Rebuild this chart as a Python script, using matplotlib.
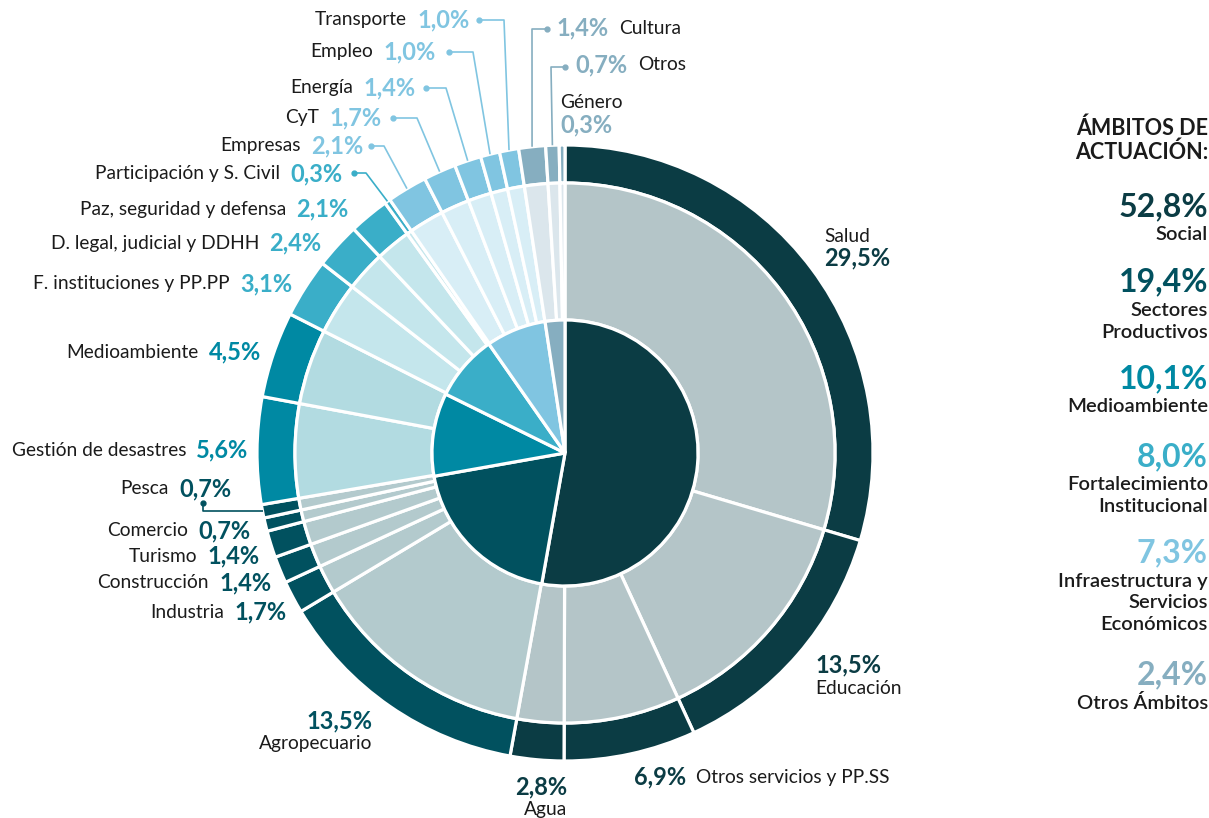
"""Donut chart of projects by sector, grouped by field of action."""

import matplotlib.pyplot as plt
import numpy as np

W, H = 1209, 818
CX, CY = 565, 453          # pie centre in pixels, measured from the top
R_OUT, R_MID, R_IN = 308, 270, 133

GROUP_NAMES = ["Social", "Sectores\nProductivos", "Medioambiente",
               "Fortalecimiento\nInstitucional",
               "Infraestructura y\nServicios\nEconómicos", "Otros Ámbitos"]
GROUP_SHARES = [52.8, 19.4, 10.1, 8.0, 7.3, 2.4]
GROUP_DARK = ["#0b3c44", "#01515f", "#0089a3", "#3aaec8", "#80c5e1", "#86aec0"]
GROUP_LIGHT = ["#b4c5c8", "#b3cacd", "#b2dbe1", "#c4e6ec", "#d8eef6", "#dbe6ec"]

SECTOR_NAMES = ["Salud", "Educación", "Otros servicios y PP.SS", "Agua",
                "Agropecuario", "Industria", "Construcción", "Turismo",
                "Comercio", "Pesca", "Gestión de desastres", "Medioambiente",
                "F. instituciones y PP.PP", "D. legal, judicial y DDHH",
                "Paz, seguridad y defensa", "Participación y S. Civil",
                "Empresas", "CyT", "Energía", "Empleo", "Transporte",
                "Cultura", "Otros", "Género"]
SECTOR_SHARES = [29.5, 13.5, 6.9, 2.8, 13.5, 1.7, 1.4, 1.4, 0.7, 0.7,
                 5.6, 4.5, 3.1, 2.4, 2.1, 0.3, 2.1, 1.7, 1.4, 1.0, 1.0,
                 1.4, 0.7, 0.3]
SECTOR_GROUP = [0, 0, 0, 0, 1, 1, 1, 1, 1, 1, 2, 2, 3, 3, 3, 3,
                4, 4, 4, 4, 4, 5, 5, 5]

# label placement: (mode, x, y) in pixels from the top-left corner
LABEL_LAYOUT = {
    "Salud": ("name_over", 824, 236, "left"),
    "Educación": ("pct_over", 815, 665, "left"),
    "Otros servicios y PP.SS": ("pct_name", 691, 777),
    "Agua": ("pct_over", 567, 787, "right"),
    "Agropecuario": ("pct_over", 372, 721, "right"),
    "Industria": ("name_pct", 229, 612),
    "Construcción": ("name_pct", 214, 583),
    "Turismo": ("name_pct", 202, 556),
    "Comercio": ("name_pct", 193, 531),
    "Pesca": ("name_pct", 174, 489),
    "Gestión de desastres": ("name_pct", 191, 450),
    "Medioambiente": ("name_pct", 204, 352),
    "F. instituciones y PP.PP": ("name_pct", 235, 284),
    "D. legal, judicial y DDHH": ("name_pct", 264, 243),
    "Paz, seguridad y defensa": ("name_pct", 291, 209),
    "Participación y S. Civil": ("name_pct", 285, 174),
    "Empresas": ("name_pct", 306, 146),
    "CyT": ("name_pct", 324, 118),
    "Energía": ("name_pct", 358, 88),
    "Empleo": ("name_pct", 378, 52),
    "Transporte": ("name_pct", 412, 20),
    "Cultura": ("pct_name", 614, 28),
    "Otros": ("pct_name", 633, 65),
    "Género": ("name_over", 560, 103, "left"),
}

# leader lines: dot position and x of the elbow (None = go down first)
LEADERS = {
    "Transporte": ((479, 20), 504),
    "Empleo": ((449, 52), 473),
    "Energía": ((426, 88), 446),
    "CyT": ((393, 118), 417),
    "Empresas": ((371, 146), 384),
    "Participación y S. Civil": ((354, 173), 366),
    "Cultura": ((547, 29), 532),
    "Otros": ((565, 67), 551),
    "Pesca": ((203, 503), None),
}

NAME_COLOR = "#1b1b1b"
NAME_SIZE = 13.8
PCT_SIZE = 17


def pct_text(value):
    return f"{value:.1f}".replace(".", ",") + "%"


def fy(y):
    return H - y


plt.rcParams["font.family"] = ["Lato", "DejaVu Sans"]

fig = plt.figure(figsize=(W / 100, H / 100), dpi=100)
ax = fig.add_axes([0, 0, 1, 1])

outer_colors = [GROUP_DARK[g] for g in SECTOR_GROUP]
middle_colors = [GROUP_LIGHT[g] for g in SECTOR_GROUP]
edge = dict(edgecolor="white", linewidth=2.3)

outer_wedges, _ = ax.pie(SECTOR_SHARES, radius=R_OUT, center=(CX, fy(CY)),
                         startangle=90, counterclock=False, colors=outer_colors,
                         wedgeprops=dict(width=R_OUT - R_MID, **edge))
ax.pie(SECTOR_SHARES, radius=R_MID, center=(CX, fy(CY)),
       startangle=90, counterclock=False, colors=middle_colors,
       wedgeprops=dict(width=R_MID - R_IN, **edge))
ax.pie(GROUP_SHARES, radius=R_IN, center=(CX, fy(CY)),
       startangle=90, counterclock=False, colors=GROUP_DARK,
       wedgeprops=edge)

ax.set_xlim(0, W)
ax.set_ylim(0, H)
ax.set_aspect("equal")
ax.axis("off")

# sector labels
for name, value, g in zip(SECTOR_NAMES, SECTOR_SHARES, SECTOR_GROUP):
    layout = LABEL_LAYOUT[name]
    mode, x, y = layout[:3]
    color = GROUP_DARK[g]
    pct = pct_text(value)
    if mode == "name_pct":
        ax.text(x - 5, fy(y), name, ha="right", va="center",
                fontsize=NAME_SIZE, color=NAME_COLOR)
        ax.text(x + 5, fy(y), pct, ha="left", va="center",
                fontsize=PCT_SIZE, fontweight="bold", color=color)
    elif mode == "pct_name":
        ax.text(x - 5, fy(y), pct, ha="right", va="center",
                fontsize=PCT_SIZE, fontweight="bold", color=color)
        ax.text(x + 5, fy(y), name, ha="left", va="center",
                fontsize=NAME_SIZE, color=NAME_COLOR)
    elif mode == "name_over":
        ha = layout[3]
        ax.text(x, fy(y), name, ha=ha, va="center",
                fontsize=NAME_SIZE, color=NAME_COLOR)
        ax.text(x, fy(y + 22), pct, ha=ha, va="center",
                fontsize=PCT_SIZE, fontweight="bold", color=color)
    elif mode == "pct_over":
        ha = layout[3]
        ax.text(x, fy(y), pct, ha=ha, va="center",
                fontsize=PCT_SIZE, fontweight="bold", color=color)
        ax.text(x, fy(y + 23), name, ha=ha, va="center",
                fontsize=NAME_SIZE, color=NAME_COLOR)

# leader lines from the small labels to their wedge
for name, (dot, elbow_x) in LEADERS.items():
    i = SECTOR_NAMES.index(name)
    w = outer_wedges[i]
    mid = np.deg2rad((w.theta1 + w.theta2) / 2)
    ex = CX + R_OUT * np.cos(mid)
    ey = fy(CY) + R_OUT * np.sin(mid)
    dx, dy = dot[0], fy(dot[1])
    if elbow_x is None:
        xs, ys = [dx, dx, ex], [dy, ey, ey]
    else:
        xs, ys = [dx, elbow_x, ex], [dy, dy, ey]
    color = GROUP_DARK[SECTOR_GROUP[i]]
    ax.plot(xs, ys, color=color, linewidth=1.2, solid_capstyle="butt")
    ax.plot([dx], [dy], marker="o", markersize=3.5, color=color)

# field-of-action summary on the right
RIGHT = 1208
for k, line in enumerate(["ÁMBITOS DE", "ACTUACIÓN:"]):
    ax.text(RIGHT, fy(128 + 24 * k), line, ha="right", va="center",
            fontsize=15.5, fontweight="bold", color=NAME_COLOR)

legend_y = [207, 282, 379, 457, 553, 675]
for name, share, color, y in zip(GROUP_NAMES, GROUP_SHARES, GROUP_DARK, legend_y):
    ax.text(RIGHT, fy(y), pct_text(share), ha="right", va="center",
            fontsize=23, fontweight="bold", color=color)
    for k, line in enumerate(name.split("\n")):
        ax.text(RIGHT, fy(y + 28 + 22 * k), line, ha="right", va="center",
                fontsize=14.5, fontweight="semibold", color=NAME_COLOR)

fig.savefig("out.png", dpi=100)
